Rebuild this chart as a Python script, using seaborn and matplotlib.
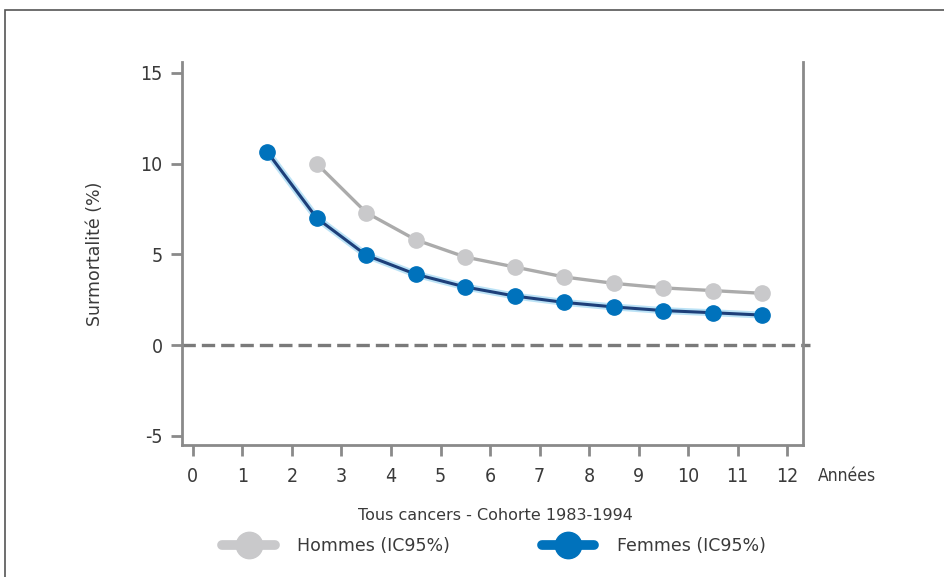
import matplotlib
matplotlib.use("Agg")
import matplotlib.pyplot as plt
from matplotlib.lines import Line2D
from matplotlib.patches import Rectangle
import seaborn as sns
import pandas as pd

# Excess mortality (%) by years since diagnosis
annees_hommes = [2.5, 3.5, 4.5, 5.5, 6.5, 7.5, 8.5, 9.5, 10.5, 11.5]
hommes = [10.0, 7.3, 5.8, 4.85, 4.3, 3.75, 3.4, 3.15, 3.0, 2.85]
annees_femmes = [1.5, 2.5, 3.5, 4.5, 5.5, 6.5, 7.5, 8.5, 9.5, 10.5, 11.5]
femmes = [10.65, 7.0, 4.95, 3.9, 3.2, 2.7, 2.35, 2.1, 1.9, 1.78, 1.65]
x_ticks = list(range(0, 13))
y_ticks = [-5, 0, 5, 10, 15]

sns.set_theme(style="white")
plt.rcParams["font.family"] = ["DejaVu Sans"]

GREY_MK = "#c9c9cb"
GREY_LN = "#ababab"
BLUE_MK = "#0072bc"
BLUE_LN = "#1d3f7a"
BLUE_GLOW = "#8fd0f0"
AXIS = "#8a8a8a"
TXT = "#3a3a3a"
NARROW = dict(family="DejaVu Sans", stretch="condensed")

df_h = pd.DataFrame({"annee": annees_hommes, "val": hommes})
df_f = pd.DataFrame({"annee": annees_femmes, "val": femmes})

fig = plt.figure(figsize=(9.44, 5.77), dpi=100)
ax = fig.add_axes([182 / 944, 1 - 445 / 577, (803 - 182) / 944, (445 - 62) / 577])

# zero reference line
ax.axhline(0, color="#7a7a7a", lw=2.4, ls=(0, (4, 1.8)), xmax=1.012, clip_on=False, zorder=1)

# Hommes
sns.lineplot(data=df_h, x="annee", y="val", ax=ax, color=GREY_LN, lw=2.4, zorder=2)
ax.plot(annees_hommes, hommes, ls="none", marker="o", ms=11, color=GREY_MK, mec=GREY_MK, zorder=3)

# Femmes: soft halo under a dark core
sns.lineplot(data=df_f, x="annee", y="val", ax=ax, color=BLUE_GLOW, lw=5, alpha=0.6, zorder=2)
sns.lineplot(data=df_f, x="annee", y="val", ax=ax, color=BLUE_LN, lw=2.2, zorder=3)
ax.plot(annees_femmes, femmes, ls="none", marker="o", ms=11, color=BLUE_MK, mec=BLUE_MK, zorder=4)

ax.set_xlim(-0.22, 12.32)
ax.set_ylim(-5.51, 15.6)
ax.set_xticks(x_ticks)
ax.set_yticks(y_ticks)
ax.set_xticklabels([str(t) for t in x_ticks], fontsize=14, color=TXT, **NARROW)
ax.set_yticklabels([str(t) for t in y_ticks], fontsize=14, color=TXT, **NARROW)
ax.set_xlabel("")
ax.set_ylabel("Surmortalité (%)", fontsize=12.5, color=TXT, labelpad=26)

for side in ["left", "right", "bottom"]:
    ax.spines[side].set_color(AXIS)
    ax.spines[side].set_linewidth(2)
ax.spines["top"].set_visible(False)
ax.tick_params(axis="both", which="both", direction="out", color=AXIS, width=2, length=8,
               bottom=True, left=True, right=False, top=False)
ax.tick_params(axis="x", pad=8)
ax.tick_params(axis="y", pad=6)

fig.text(818 / 944, 1 - 476 / 577, "Années", fontsize=12.5, color=TXT, va="center", ha="left", **NARROW)
fig.text(495 / 944, 1 - 515 / 577, "Tous cancers - Cohorte 1983-1994", fontsize=11.5,
         color=TXT, va="center", ha="center")

handles = [
    Line2D([0], [0], color=GREY_MK, lw=7, marker="o", ms=19, mec=GREY_MK),
    Line2D([0], [0], color=BLUE_MK, lw=7, marker="o", ms=19, mec=BLUE_MK),
]
leg = fig.legend(handles, ["Hommes (IC95%)", "Femmes (IC95%)"], loc="center",
                 bbox_to_anchor=(494 / 944, 1 - 546 / 577), ncol=2, frameon=False,
                 handlelength=3.0, columnspacing=5.3, handletextpad=1.3,
                 prop={"family": "DejaVu Sans", "size": 12.5})
for t in leg.get_texts():
    t.set_color(TXT)

# outer frame
fig.patches.append(Rectangle((5 / 944, -0.05), 1.0, 1 - 10 / 577 + 0.05, transform=fig.transFigure,
                             fill=False, edgecolor="#555555", lw=1.2))

fig.savefig("out.png", dpi=100, facecolor="white")
